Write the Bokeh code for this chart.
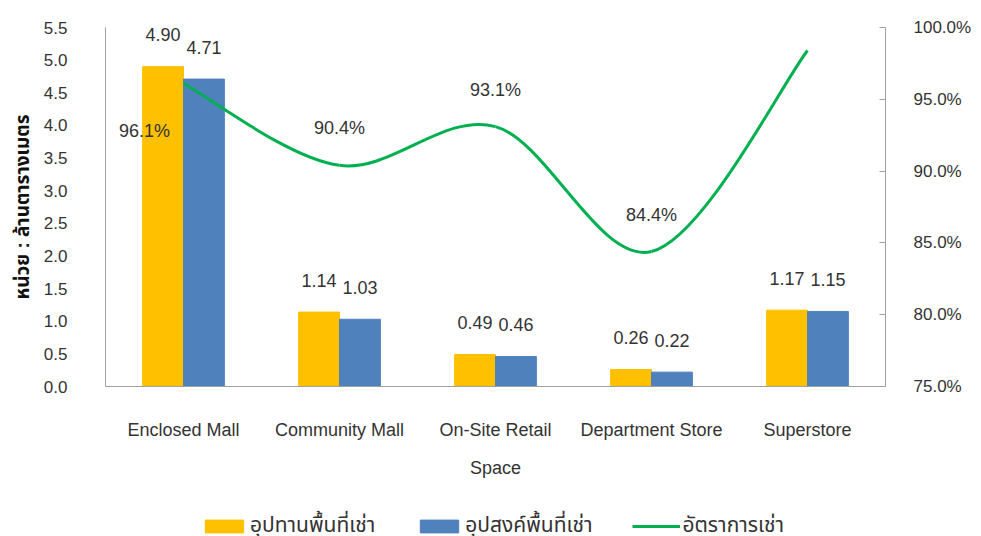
from bokeh.plotting import figure
from bokeh.layouts import column
from bokeh.models import (FactorRange, Range1d, LinearAxis, FixedTicker, NumeralTickFormatter,
                          PrintfTickFormatter, ColumnDataSource, Legend, LegendItem)
from bokeh.transform import dodge
from bokeh.core.properties import value
from bokeh.embed import file_html
from bokeh.resources import INLINE

categories = ["Enclosed Mall", "Community Mall", "On-Site Retail", "Department Store", "Superstore"]
supply = [4.90, 1.14, 0.49, 0.26, 1.17]
demand = [4.71, 1.03, 0.46, 0.22, 1.15]
occupancy = [96.1, 90.4, 93.1, 84.4, 98.4]
left_ticks = [0.0, 0.5, 1.0, 1.5, 2.0, 2.5, 3.0, 3.5, 4.0, 4.5, 5.0, 5.5]
right_ticks = [75, 80, 85, 90, 95, 100]
series_names = ["อุปทานพื้นที่เช่า", "อุปสงค์พื้นที่เช่า", "อัตราการเช่า"]
x_title = "Space"
y_title = "หน่วย : ล้านตารางเมตร"

FONT = "'Liberation Sans', 'Noto Sans Thai', 'Noto Sans', sans-serif"
TXT = "#333333"
AX = "#a0a0a0"
YELLOW = "#FFC000"
BLUE = "#4F81BD"
GREEN = "#00B050"

src = ColumnDataSource(dict(
    cat=categories, supply=supply, demand=demand, occ=occupancy,
    s_lbl=[f"{v:.2f}" for v in supply],
    d_lbl=[f"{v:.2f}" for v in demand],
    o_lbl=[f"{v:.1f}%" for v in occupancy],
))

p = figure(x_range=FactorRange(*categories, range_padding=0), y_range=Range1d(0, 5.5),
           frame_width=780, frame_height=359, output_backend="svg", toolbar_location=None,
           min_border_left=105, min_border_right=95, min_border_top=27, min_border_bottom=104)
p.extra_y_ranges = {"pct": Range1d(75, 100)}
p.outline_line_color = None
p.xgrid.grid_line_color = None
p.ygrid.grid_line_color = None
p.background_fill_color = "white"

BW = 0.262
r1 = p.vbar(x=dodge("cat", -BW / 2, range=p.x_range), top="supply", width=BW, source=src,
            fill_color=YELLOW, line_color=YELLOW)
r2 = p.vbar(x=dodge("cat", BW / 2, range=p.x_range), top="demand", width=BW, source=src,
            fill_color=BLUE, line_color=BLUE)

# smoothed line (Catmull-Rom -> cubic Bezier) through the occupancy points
n = len(occupancy)
xs = [i + 0.5 for i in range(n)]
x0, y0, x1, y1, cx0, cy0, cx1, cy1 = [], [], [], [], [], [], [], []
for i in range(n - 1):
    pa = max(i - 1, 0)
    pb = min(i + 2, n - 1)
    x0.append(xs[i]); y0.append(occupancy[i])
    x1.append(xs[i + 1]); y1.append(occupancy[i + 1])
    cx0.append(xs[i] + (xs[i + 1] - xs[pa]) / 6)
    cy0.append(occupancy[i] + (occupancy[i + 1] - occupancy[pa]) / 6)
    cx1.append(xs[i + 1] - (xs[pb] - xs[i]) / 6)
    cy1.append(occupancy[i + 1] - (occupancy[pb] - occupancy[i]) / 6)
r3 = p.bezier(x0=x0, y0=y0, x1=x1, y1=y1, cx0=cx0, cy0=cy0, cx1=cx1, cy1=cy1,
              line_color=GREEN, line_width=3, y_range_name="pct")

# labels
lab = dict(text_font=value(FONT), text_font_size="18px", text_color=TXT,
           text_align="center", text_baseline="middle")
p.text(x=dodge("cat", -BW / 2, range=p.x_range), y="supply", text="s_lbl", source=src,
       y_offset=-32, **lab)
p.text(x=dodge("cat", BW / 2, range=p.x_range), y="demand", text="d_lbl", source=src,
       y_offset=-32, **lab)
src_rest = ColumnDataSource(dict(cat=categories[1:], occ=occupancy[1:],
                                 o_lbl=[f"{v:.1f}%" for v in occupancy[1:]]))
src_first = ColumnDataSource(dict(cat=categories[:1], occ=occupancy[:1],
                                  o_lbl=[f"{v:.1f}%" for v in occupancy[:1]]))
p.text(x="cat", y="occ", text="o_lbl", source=src_rest, y_range_name="pct", y_offset=-37, **lab)
p.text(x="cat", y="occ", text="o_lbl", source=src_first, y_range_name="pct",
       x_offset=-39, y_offset=47, **lab)

# axes
p.xaxis.axis_line_color = AX
p.xaxis.major_tick_line_color = None
p.xaxis.minor_tick_line_color = None
p.xaxis.major_label_text_font = FONT
p.xaxis.major_label_text_font_size = "18px"
p.xaxis.major_label_text_color = TXT
p.xaxis.major_label_standoff = 27
p.xaxis.axis_label = x_title
p.xaxis.axis_label_text_font = FONT
p.xaxis.axis_label_text_font_size = "18px"
p.xaxis.axis_label_text_font_style = "normal"
p.xaxis.axis_label_text_color = TXT
p.xaxis.axis_label_standoff = 15

p.yaxis.ticker = FixedTicker(ticks=left_ticks)
p.yaxis.formatter = NumeralTickFormatter(format="0.0")
p.yaxis.axis_line_color = AX
p.yaxis.major_tick_line_color = None
p.yaxis.minor_tick_line_color = None
p.yaxis.major_label_text_font = FONT
p.yaxis.major_label_text_font_size = "17px"
p.yaxis.major_label_text_color = TXT
p.yaxis.major_label_standoff = 32
p.yaxis.axis_label = y_title
p.yaxis.axis_label_text_font = FONT
p.yaxis.axis_label_text_font_size = "19px"
p.yaxis.axis_label_text_font_style = "bold"
p.yaxis.axis_label_text_color = "#111111"
p.yaxis.axis_label_standoff = 8

ra = LinearAxis(y_range_name="pct", ticker=FixedTicker(ticks=right_ticks),
                formatter=PrintfTickFormatter(format="%.1f%%"))
ra.axis_line_color = AX
ra.major_tick_line_color = AX
ra.major_tick_in = 6
ra.major_tick_out = 0
ra.minor_tick_line_color = None
ra.major_label_text_font = FONT
ra.major_label_text_font_size = "17px"
ra.major_label_text_color = TXT
ra.major_label_standoff = 28
p.add_layout(ra, "right")

# legend strip below the chart (swatch renderers sit outside the strip's visible range)
q = figure(frame_width=980, frame_height=46, output_backend="svg", toolbar_location=None,
           x_axis_location=None, y_axis_location=None, min_border=0,
           x_range=Range1d(0, 1), y_range=Range1d(0, 1))
q.outline_line_color = None
q.xgrid.grid_line_color = None
q.ygrid.grid_line_color = None
k1 = q.vbar(x=[-5], top=[-5], width=0.1, fill_color=YELLOW, line_color=YELLOW)
k2 = q.vbar(x=[-5], top=[-5], width=0.1, fill_color=BLUE, line_color=BLUE)
k3 = q.line(x=[-5, -4], y=[-5, -5], line_color=GREEN, line_width=3)
legend = Legend(items=[LegendItem(label=series_names[0], renderers=[k1]),
                       LegendItem(label=series_names[1], renderers=[k2]),
                       LegendItem(label=series_names[2], renderers=[k3])],
                orientation="horizontal", location=(200, -5),
                glyph_width=48, glyph_height=16, spacing=40, label_standoff=2,
                label_text_font=FONT, label_text_font_size="21px", label_text_color=TXT,
                border_line_color=None, background_fill_alpha=0, margin=0, padding=0)
q.add_layout(legend, "center")

open("out.html", "w").write(file_html(column(p, q, spacing=0), INLINE))
